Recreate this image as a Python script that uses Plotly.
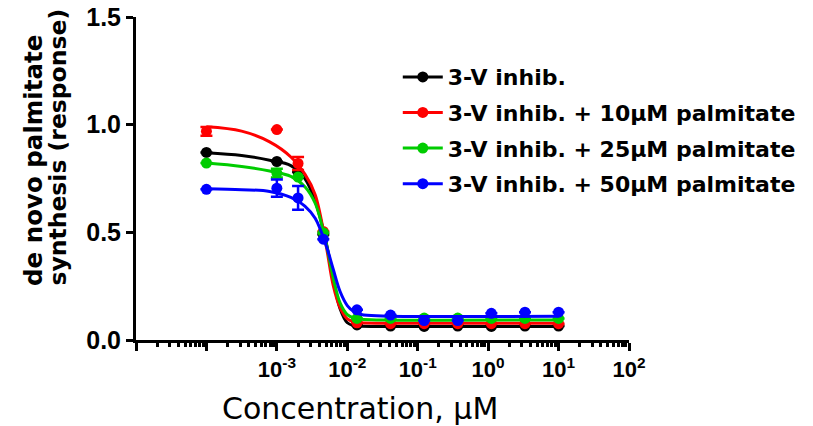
import plotly.graph_objects as go

# ---- data ----
series_names = ["3-V inhib.", "3-V inhib. + 10µM palmitate",
                "3-V inhib. + 25µM palmitate", "3-V inhib. + 50µM palmitate"]
series_colors = ["#000000", "#ff0000", "#00cc00", "#0000ff"]

conc = [1e-4, 1e-3, 2e-3, 4.57e-3, 1.372e-2, 4.115e-2, 0.1235, 0.3704, 1.111, 3.333, 10]
black_y = [0.871, 0.829, 0.780, 0.490, 0.070, 0.065, 0.063, 0.065, 0.063, 0.065, 0.065]
red_y = [0.969, 0.977, 0.820, 0.504, 0.080, 0.076, 0.076, 0.076, 0.076, 0.076, 0.076]
green_y = [0.822, 0.775, 0.757, 0.498, 0.100, 0.100, 0.102, 0.102, 0.100, 0.100, 0.100]
blue_y = [0.700, 0.705, 0.660, 0.468, 0.140, 0.116, 0.090, 0.090, 0.124, 0.129, 0.129]

black_err = [0, 0, 0, 0, 0, 0, 0, 0, 0, 0, 0]
red_err = [0.02, 0, 0.03, 0, 0, 0, 0, 0, 0, 0, 0]
green_err = [0, 0.02, 0, 0, 0, 0, 0, 0, 0, 0, 0]
blue_err = [0, 0.04, 0.055, 0, 0, 0, 0, 0, 0, 0, 0]

fit_conc = [1e-4, 3.16e-4, 7.9e-4, 1.58e-3, 2.5e-3, 3.5e-3, 5e-3, 6.3e-3,
            7.9e-3, 1e-2, 1.26e-2, 1.58e-2, 3.16e-2, 10]
black_fit = [0.870, 0.857, 0.835, 0.810, 0.750, 0.645, 0.455, 0.285, 0.145, 0.080, 0.066, 0.064, 0.063, 0.063]
red_fit = [0.990, 0.970, 0.920, 0.850, 0.770, 0.675, 0.440, 0.255, 0.150, 0.098, 0.084, 0.080, 0.078, 0.078]
green_fit = [0.822, 0.806, 0.785, 0.760, 0.712, 0.635, 0.450, 0.290, 0.172, 0.118, 0.102, 0.096, 0.093, 0.093]
blue_fit = [0.702, 0.698, 0.690, 0.662, 0.622, 0.565, 0.440, 0.330, 0.225, 0.160, 0.130, 0.118, 0.112, 0.110]

x_major = [1e-5, 1e-4, 1e-3, 1e-2, 1e-1, 1e0, 1e1, 1e2]
x_major_text = ["", "", "10<sup>-3</sup>", "10<sup>-2</sup>", "10<sup>-1</sup>",
                "10<sup>0</sup>", "10<sup>1</sup>", "10<sup>2</sup>"]
x_minor = [m * d for d in [1e-5, 1e-4, 1e-3, 1e-2, 1e-1, 1e0, 1e1] for m in range(2, 10)]
y_ticks = [0.0, 0.5, 1.0, 1.5]
y_tick_text = ["0.0", "0.5", "1.0", "1.5"]

points = [black_y, red_y, green_y, blue_y]
errs = [black_err, red_err, green_err, blue_err]
fits = [black_fit, red_fit, green_fit, blue_fit]

fig = go.Figure()
for name, col, ys, er, fy in zip(series_names, series_colors, points, errs, fits):
    fig.add_trace(go.Scatter(x=fit_conc, y=fy, mode="lines",
                             line=dict(color=col, width=3, shape="spline"),
                             showlegend=False, hoverinfo="skip"))
    fig.add_trace(go.Scatter(x=conc, y=ys, mode="markers",
                             marker=dict(color=col, size=11),
                             error_y=dict(type="data", array=er, visible=True,
                                          color=col, thickness=2.5, width=6),
                             showlegend=False, cliponaxis=False))
for i, (name, col) in enumerate(zip(series_names, series_colors)):
    fig.add_trace(go.Scatter(x=[None], y=[None], mode="lines+markers", name=name,
                             legendgroup="g%d" % i,
                             line=dict(color=col, width=3),
                             marker=dict(color=col, size=11)))

fig.update_layout(
    width=813, height=426,
    margin=dict(l=136, r=176, t=17, b=86),
    plot_bgcolor="white", paper_bgcolor="white",
    showlegend=True,
    legend=dict(x=0.531, y=0.879, xanchor="left", yanchor="top",
                font=dict(family="DejaVu Sans", size=22, color="black", weight="bold"),
                bgcolor="rgba(0,0,0,0)", itemwidth=40, tracegroupgap=4),
    xaxis=dict(type="log", range=[-5, 2], showgrid=False, zeroline=False,
               showline=True, linecolor="black", linewidth=3, automargin=False,
               tickmode="array", tickvals=x_major, ticktext=x_major_text,
               ticks="outside", ticklen=8, tickwidth=2.5, tickcolor="black",
               tickfont=dict(family="Liberation Sans", size=22, color="black", weight="bold"),
               minor=dict(tickmode="array", tickvals=x_minor, ticks="outside",
                          ticklen=4, tickwidth=2.5, tickcolor="black"),
               ),
    yaxis=dict(range=[0, 1.5], showgrid=False, zeroline=False,
               showline=True, linecolor="black", linewidth=3, automargin=False,
               tickmode="array", tickvals=y_ticks, ticktext=y_tick_text,
               ticks="outside", ticklen=7, tickwidth=2.5, tickcolor="black",
               tickfont=dict(family="Liberation Sans", size=25, color="black", weight="bold")),
    annotations=[
        dict(text="de novo palmitate", xref="paper", yref="paper", x=-0.208, y=0.161,
             xanchor="center", yanchor="bottom", textangle=-90, showarrow=False,
             font=dict(family="DejaVu Sans", size=24.5, color="black", weight="bold")),
        dict(text="synthesis (response)", xref="paper", yref="paper", x=-0.158, y=0.161,
             xanchor="center", yanchor="bottom", textangle=-90, showarrow=False,
             font=dict(family="DejaVu Sans", size=23.5, color="black", weight="bold")),
        dict(text="Concentration, µM", xref="paper", yref="paper", x=0.455, y=-0.213,
             xanchor="center", yanchor="middle", showarrow=False,
             font=dict(family="DejaVu Sans", size=30, color="black")),
    ],
)
# remove the browser's default 8px page margin so the figure fills the window exactly
fig.write_html("out.html", config={"displayModeBar": False},
               post_script="document.body.style.margin='0';")
